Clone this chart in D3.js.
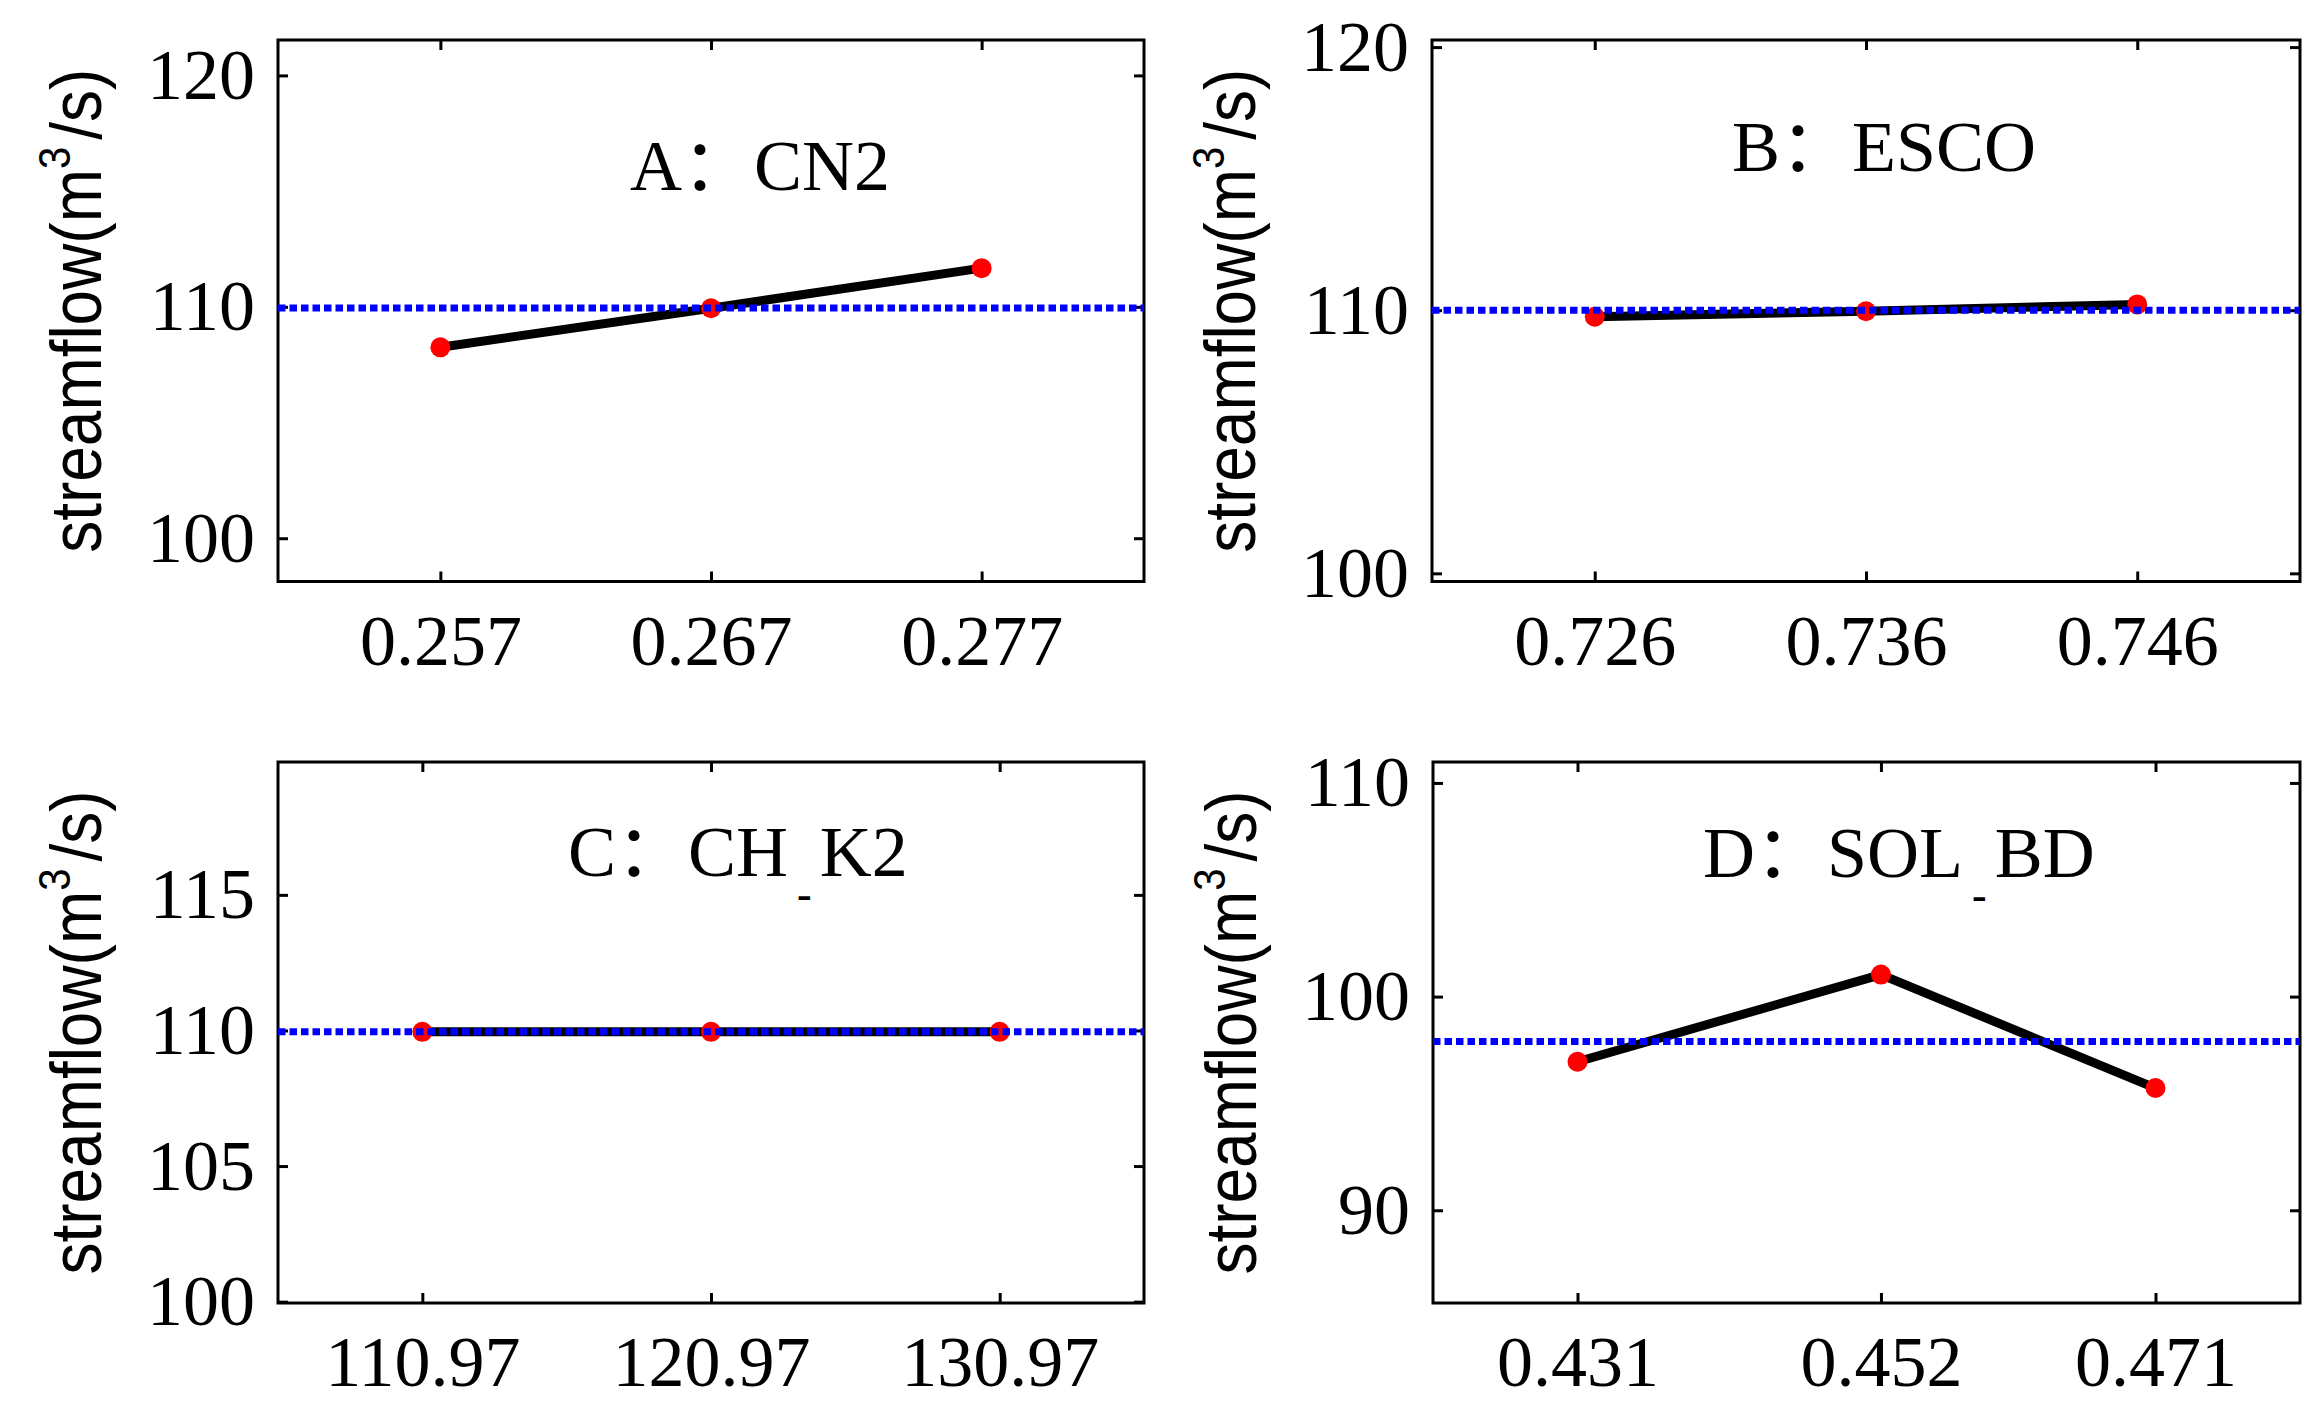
<!DOCTYPE html>
<html>
<head>
<meta charset="utf-8">
<script src="https://cdn.jsdelivr.net/npm/d3@7/dist/d3.min.js"></script>
<style>
  html, body { margin: 0; padding: 0; background: #fff; }
  svg { display: block; }
</style>
</head>
<body>
<svg id="chart" width="2317" height="1414"></svg>
<script>
// ---------------- data ----------------
const panelIds = ["A", "B", "C", "D"];
const titleHead = ["A：CN2", "B：ESCO", "C：CH", "D：SOL"];
const titleTail = ["", "", "K2", "BD"];
const hasSubDash = [false, false, true, true];

const xA = [0.257, 0.267, 0.277];
const yA = [108.25, 109.94, 111.67];
const baseA = 109.95;

const xB = [0.726, 0.736, 0.746];
const yB = [109.75, 109.96, 110.22];
const baseB = 110.0;

const xC = [110.97, 120.97, 130.97];
const yC = [109.95, 109.95, 109.95];
const baseC = 109.95;

const xD = [0.431, 0.452, 0.471];
const yD = [96.95, 101.03, 95.72];
const baseD = 97.9;

const xTickLabelsA = ["0.257", "0.267", "0.277"];
const xTickLabelsB = ["0.726", "0.736", "0.746"];
const xTickLabelsC = ["110.97", "120.97", "130.97"];
const xTickLabelsD = ["0.431", "0.452", "0.471"];

const yTicksA = [100, 110, 120];
const yTicksB = [100, 110, 120];
const yTicksC = [100, 105, 110, 115];
const yTicksD = [90, 100, 110];

const xLimA = [0.251, 0.283];
const xLimB = [0.720, 0.752];
const xLimC = [105.97, 135.97];
const xLimD = [0.421, 0.481];

const yLimA = [98.13, 121.53];
const yLimB = [99.69, 120.27];
const yLimC = [99.95, 119.9];
const yLimD = [85.66, 110.98];

// ---------------- layout ----------------
const boxes = [
  {x0: 278, y0: 40, x1: 1144, y1: 581.5},
  {x0: 1432, y0: 40, x1: 2300, y1: 581.5},
  {x0: 278, y0: 762, x1: 1144, y1: 1303},
  {x0: 1433, y0: 762, x1: 2300, y1: 1303}
];
const titlePos = [
  {dx: 352, dy: 150},
  {dx: 300, dy: 131},
  {dx: 290, dy: 114},
  {dx: 270, dy: 115}
];

const panels = [
  {x: xA, y: yA, base: baseA, xl: xTickLabelsA, yt: yTicksA, xlim: xLimA, ylim: yLimA},
  {x: xB, y: yB, base: baseB, xl: xTickLabelsB, yt: yTicksB, xlim: xLimB, ylim: yLimB},
  {x: xC, y: yC, base: baseC, xl: xTickLabelsC, yt: yTicksC, xlim: xLimC, ylim: yLimC},
  {x: xD, y: yD, base: baseD, xl: xTickLabelsD, yt: yTicksD, xlim: xLimD, ylim: yLimD}
];

const serif = "'Liberation Serif','Times New Roman','DejaVu Serif',serif";
const titleFont = "'Liberation Serif','Times New Roman','Noto Sans CJK SC',serif";
const sans = "'Liberation Sans',Arial,Helvetica,sans-serif";

const svg = d3.select("#chart");

panels.forEach((p, i) => {
  const b = boxes[i];
  const xs = d3.scaleLinear().domain(p.xlim).range([b.x0, b.x1]);
  const ys = d3.scaleLinear().domain(p.ylim).range([b.y1, b.y0]);
  const g = svg.append("g").attr("class", "panel-" + panelIds[i]);

  // axes (ticks inward, on all four sides)
  const styleAxis = (sel, showText) => {
    sel.select(".domain").remove();
    sel.selectAll(".tick line").attr("stroke", "#000").attr("stroke-width", 3);
    sel.selectAll(".tick text")
      .attr("fill", "#000")
      .style("font-family", serif)
      .style("font-size", "72px");
    if (!showText) sel.selectAll(".tick text").remove();
  };

  const xTickFmt = (d) => p.xl[p.x.indexOf(d)];

  g.append("g").attr("transform", `translate(0,${b.y1})`)
    .call(d3.axisBottom(xs).tickValues(p.x).tickFormat(xTickFmt).tickSizeInner(-10).tickSizeOuter(0).tickPadding(32))
    .call(s => styleAxis(s, true));
  g.append("g").attr("transform", `translate(0,${b.y0})`)
    .call(d3.axisTop(xs).tickValues(p.x).tickSizeInner(-10).tickSizeOuter(0))
    .call(s => styleAxis(s, false));
  g.append("g").attr("transform", `translate(${b.x0},0)`)
    .call(d3.axisLeft(ys).tickValues(p.yt).tickFormat(d3.format("d")).tickSizeInner(-10).tickSizeOuter(0).tickPadding(23))
    .call(s => styleAxis(s, true));
  g.append("g").attr("transform", `translate(${b.x1},0)`)
    .call(d3.axisRight(ys).tickValues(p.yt).tickSizeInner(-10).tickSizeOuter(0))
    .call(s => styleAxis(s, false));

  // box
  g.append("rect")
    .attr("x", b.x0).attr("y", b.y0)
    .attr("width", b.x1 - b.x0).attr("height", b.y1 - b.y0)
    .attr("fill", "none").attr("stroke", "#000").attr("stroke-width", 3);

  // data line
  const pts = p.x.map((v, k) => [v, p.y[k]]);
  const line = d3.line().x(d => xs(d[0])).y(d => ys(d[1]));
  g.append("path").datum(pts)
    .attr("d", line)
    .attr("fill", "none").attr("stroke", "#000").attr("stroke-width", 9)
    .attr("stroke-linejoin", "round");

  g.selectAll("circle.pt").data(pts).enter().append("circle")
    .attr("class", "pt")
    .attr("cx", d => xs(d[0])).attr("cy", d => ys(d[1]))
    .attr("r", 10).attr("fill", "#ff0000");

  // baseline (blue dotted)
  g.append("line")
    .attr("x1", xs(p.xlim[0])).attr("x2", xs(p.xlim[1]))
    .attr("y1", ys(p.base)).attr("y2", ys(p.base))
    .attr("stroke", "#0000ff").attr("stroke-width", 7)
    .attr("stroke-dasharray", "7.5,4");

  // title
  const t = g.append("text")
    .attr("x", b.x0 + titlePos[i].dx).attr("y", b.y0 + titlePos[i].dy)
    .style("font-family", titleFont).style("font-size", "72px").attr("fill", "#000");
  t.append("tspan").text(titleHead[i]);
  if (hasSubDash[i]) {
    t.append("tspan").attr("dx", 9).attr("dy", 33)
      .style("font-size", "44px").style("font-weight", "bold").text("-");
    t.append("tspan").attr("dx", 8).attr("dy", -33).text(titleTail[i]);
  }

  // y label
  const yl = g.append("text")
    .attr("transform", `translate(${b.x0 - 177},${(b.y0 + b.y1) / 2}) rotate(-90)`)
    .attr("text-anchor", "middle")
    .attr("textLength", 484).attr("lengthAdjust", "spacingAndGlyphs")
    .style("font-family", sans).style("font-size", "72px").attr("fill", "#000");
  yl.append("tspan").text("streamflow(m");
  yl.append("tspan").attr("dy", -31).style("font-size", "45px").text("3");
  yl.append("tspan").attr("dy", 31).attr("dx", 8).text("/s)");
});
</script>
</body>
</html>
